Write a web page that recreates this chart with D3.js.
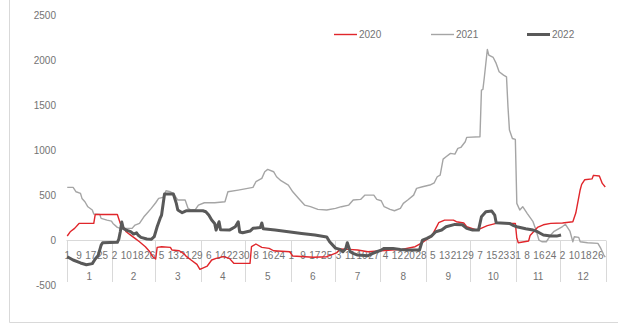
<!DOCTYPE html>
<html>
<head>
<meta charset="utf-8">
<script src="https://cdn.jsdelivr.net/npm/d3@7/dist/d3.min.js"></script>
<style>
  html, body { margin: 0; padding: 0; background: #fff; }
  svg { display: block; font-family: "Liberation Sans", Arial, sans-serif; }
</style>
</head>
<body>
<svg id="chart" width="618" height="324"></svg>
<script>
// Month lengths for the daily category axis (leap-year calendar, 366 days)
const monthDays = [31, 29, 31, 30, 31, 30, 31, 31, 30, 31, 30, 31];
const monthLabels = ["1", "2", "3", "4", "5", "6", "7", "8", "9", "10", "11", "12"];
const yTicks = [-500, 0, 500, 1000, 1500, 2000, 2500];
const seriesNames = ["2020", "2021", "2022"];

// Readings as [day of year (0 = Jan 1), value]
const series2020 = [[0,45],[2,92],[5,130],[8,185],[18,185],[19,285],[34,285],[36,185],[38,148],[40,92],[43,55],[46,19],[49,-19],[53,-74],[56,-130],[58,-185],[60,-211],[61,-81],[64,-74],[70,-81],[71,-111],[76,-119],[79,-150],[81,-185],[84,-222],[88,-270],[90,-326],[95,-289],[98,-222],[101,-204],[106,-185],[110,-204],[113,-259],[124,-259],[125,-74],[128,-44],[132,-81],[137,-93],[140,-119],[151,-130],[153,-178],[167,-192],[176,-185],[180,-160],[183,-140],[185,-100],[191,-104],[197,-111],[204,-130],[213,-119],[227,-104],[236,-74],[240,-37],[244,8],[247,37],[251,160],[252,193],[256,222],[262,222],[264,204],[269,190],[271,148],[278,111],[285,160],[291,185],[304,185],[305,20],[306,-30],[313,-10],[314,50],[319,140],[323,170],[328,185],[336,190],[343,204],[345,300],[348,560],[349,620],[351,670],[356,680],[357,720],[361,712],[363,630],[365,590]];

const series2021 = [[0,586],[4,586],[6,537],[9,519],[10,463],[12,426],[14,370],[17,334],[18,289],[22,286],[23,241],[27,222],[30,211],[31,185],[34,141],[36,130],[44,130],[46,167],[49,185],[52,259],[54,296],[57,352],[60,415],[62,463],[65,474],[67,548],[70,537],[72,519],[75,445],[80,445],[82,352],[84,334],[87,341],[89,389],[93,415],[100,415],[107,426],[109,537],[116,556],[126,586],[128,649],[132,686],[134,760],[136,786],[140,760],[142,704],[145,660],[150,612],[153,537],[157,463],[161,389],[165,371],[170,341],[176,334],[182,352],[186,371],[191,389],[194,445],[199,452],[202,500],[208,500],[210,452],[213,437],[215,371],[219,341],[222,326],[226,352],[228,408],[231,445],[235,500],[237,575],[241,593],[246,612],[249,637],[251,704],[253,723],[255,900],[257,926],[260,964],[263,956],[265,1019],[267,1030],[270,1093],[271,1142],[280,1149],[281,1668],[282,1676],[283,1816],[285,2120],[286,2057],[289,2031],[291,1965],[293,1872],[296,1835],[298,1816],[299,1483],[300,1223],[302,1130],[304,1119],[305,408],[307,334],[309,371],[312,297],[316,204],[318,111],[320,0],[322,-19],[325,-19],[328,56],[330,93],[336,150],[338,175],[341,100],[343,-19],[344,37],[347,30],[348,-19],[353,-30],[360,-37],[362,-93],[364,-167],[365,-190]];

const series2022 = [[0,-185],[4,-222],[9,-255],[13,-275],[17,-262],[19,-210],[21,-170],[23,-56],[24,-30],[34,-25],[35,10],[36,93],[37,200],[38,130],[40,111],[43,93],[45,67],[47,81],[48,56],[50,30],[54,11],[57,8],[59,37],[61,148],[63,241],[64,278],[66,512],[72,512],[74,408],[75,334],[78,304],[81,326],[92,326],[94,315],[96,278],[98,222],[100,185],[101,111],[103,204],[104,115],[110,111],[114,148],[116,204],[117,90],[119,81],[124,100],[126,130],[131,140],[132,190],[133,125],[141,111],[150,93],[159,74],[168,56],[176,35],[178,-19],[182,-90],[185,-104],[187,-130],[189,-93],[190,-30],[192,-130],[194,-148],[197,-167],[204,-174],[206,-156],[210,-130],[213,-111],[215,-93],[221,-93],[226,-104],[231,-111],[239,-111],[241,0],[244,19],[247,44],[250,93],[254,111],[257,148],[263,174],[268,170],[271,130],[275,111],[279,111],[281,259],[284,315],[288,322],[290,278],[291,193],[300,185],[302,167],[305,148],[311,125],[316,111],[319,93],[323,56],[328,44],[332,44],[335,56]];

const styles = {
  "2020": { color: "#e0262b", width: 1.4 },
  "2021": { color: "#a5a5a5", width: 1.4 },
  "2022": { color: "#595959", width: 3 }
};

// Build the daily categories: one per calendar day, with month and day-of-month
const days = [];
monthDays.forEach((n, m) => { for (let d = 1; d <= n; d++) days.push({ month: m, day: d }); });

const svg = d3.select("#chart");
const plotLeft = 66.5, plotRight = 606, plotTop = 15.3, plotBottom = 285;

const x = d3.scaleBand().domain(d3.range(days.length)).range([plotLeft, plotRight]).padding(0);
const y = d3.scaleLinear().domain([-500, 2500]).range([plotBottom, plotTop]);
const cx = i => x(i) + x.bandwidth() / 2;

const axisColor = "#d9d9d9", textColor = "#737373";

// Outer chart frame (left and bottom edges)
svg.append("line").attr("x1", 9.5).attr("x2", 9.5).attr("y1", 0).attr("y2", 322.5)
  .attr("stroke", axisColor).attr("stroke-width", 1);
svg.append("line").attr("x1", 9.5).attr("x2", 618).attr("y1", 322.5).attr("y2", 322.5)
  .attr("stroke", axisColor).attr("stroke-width", 1);

// Value axis labels
svg.append("g").selectAll("text").data(yTicks).join("text")
  .attr("x", 56).attr("y", d => y(d)).attr("dy", "0.35em")
  .attr("text-anchor", "end").attr("font-size", 10).attr("fill", textColor)
  .text(d => d);

// Category axis at zero
const y0 = Math.round(y(0)) + 0.5;
svg.append("line").attr("x1", plotLeft).attr("x2", plotRight).attr("y1", y0).attr("y2", y0)
  .attr("stroke", axisColor).attr("stroke-width", 1);

// Month group separators
const monthStarts = [];
let acc = 0;
monthDays.forEach(n => { monthStarts.push(acc); acc += n; });
const bounds = monthStarts.map(s => x(s)).concat([plotRight]);
svg.append("g").selectAll("line").data(bounds).join("line")
  .attr("x1", d => Math.round(d) + 0.5).attr("x2", d => Math.round(d) + 0.5)
  .attr("y1", y0).attr("y2", 282)
  .attr("stroke", axisColor).attr("stroke-width", 1);

// Day-of-month labels, every 8th category
const dayIdx = d3.range(0, days.length, 8);
svg.append("g").selectAll("text").data(dayIdx).join("text")
  .attr("x", i => cx(i)).attr("y", 255).attr("dy", "0.35em")
  .attr("text-anchor", "middle").attr("font-size", 10).attr("fill", textColor)
  .text(i => days[i].day);

// Month labels centred under each group
svg.append("g").selectAll("text").data(monthLabels).join("text")
  .attr("x", (d, i) => (bounds[i] + bounds[i + 1]) / 2).attr("y", 276).attr("dy", "0.35em")
  .attr("text-anchor", "middle").attr("font-size", 10).attr("fill", textColor)
  .text(d => d);

// Series lines
const line = d3.line().x(d => cx(d[0])).y(d => y(d[1]));
const seriesData = { "2020": series2020, "2021": series2021, "2022": series2022 };
["2021", "2020", "2022"].forEach(name => {
  svg.append("path").datum(seriesData[name])
    .attr("fill", "none").attr("stroke", styles[name].color)
    .attr("stroke-width", styles[name].width)
    .attr("stroke-linejoin", "round")
    .attr("d", line);
});

// Legend
const legendX = [334, 431, 527];
const lg = svg.append("g").selectAll("g").data(seriesNames).join("g")
  .attr("transform", (d, i) => `translate(${legendX[i]},34.5)`);
lg.append("line").attr("x1", 0).attr("x2", 23).attr("y1", 0).attr("y2", 0)
  .attr("stroke", d => styles[d].color).attr("stroke-width", d => styles[d].width);
lg.append("text").attr("x", 25).attr("dy", "0.35em")
  .attr("font-size", 10).attr("fill", textColor).text(d => d);
</script>
</body>
</html>
